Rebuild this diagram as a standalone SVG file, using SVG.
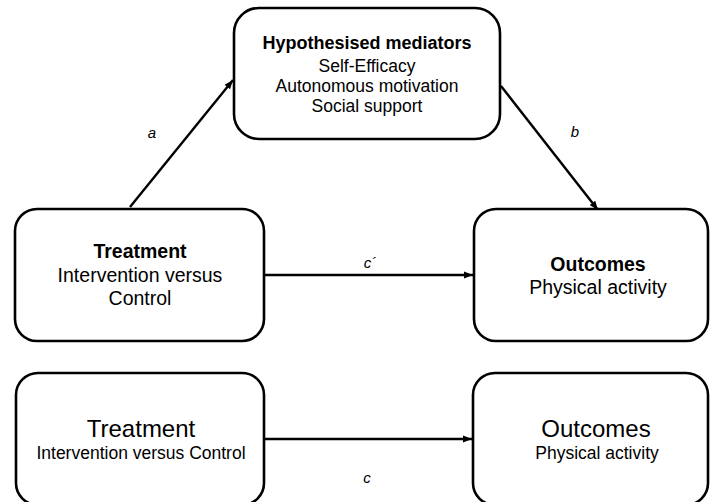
<svg xmlns="http://www.w3.org/2000/svg" width="710" height="502" viewBox="0 0 710 502">
<defs>
<style>
.box{fill:#fff;stroke:#000;stroke-width:2.6}
.edge{stroke:#000;stroke-width:2.4;fill:none}
text{font-family:"Liberation Sans",Arial,sans-serif;fill:#000;text-anchor:middle}
.b{font-weight:bold}
.lbl{font-style:italic;font-size:15px}
</style>
<marker id="ah" markerUnits="userSpaceOnUse" markerWidth="10" markerHeight="8" refX="9" refY="4" orient="auto">
<path d="M0,0.5 L9,4 L0,7.5 Z" fill="#000"/>
</marker>
</defs>
<rect width="710" height="502" fill="#fff"/>
<g id="connectors">
<line class="edge" x1="130" y1="207" x2="233" y2="80" marker-end="url(#ah)"/>
<line class="edge" x1="501" y1="86" x2="598" y2="210" marker-end="url(#ah)"/>
<line class="edge" x1="264" y1="275" x2="473" y2="275" marker-end="url(#ah)"/>
<line class="edge" x1="264" y1="439" x2="472" y2="439" marker-end="url(#ah)"/>
<text class="lbl" x="152" y="138">a</text>
<text class="lbl" x="575" y="137">b</text>
<text class="lbl" x="370" y="268">c´</text>
<text class="lbl" x="367" y="483">c</text>
</g>
<g id="mediators">
<rect class="box" x="234" y="8" width="266" height="131" rx="25"/>
<text class="b" x="367" y="49" font-size="18">Hypothesised mediators</text>
<text x="367" y="72" font-size="17.5">Self-Efficacy</text>
<text x="367" y="92" font-size="17.5">Autonomous motivation</text>
<text x="367" y="112" font-size="17.5">Social support</text>
</g>
<g id="treatment1">
<rect class="box" x="15" y="209" width="249" height="132" rx="22"/>
<text class="b" x="140" y="258" font-size="19.5">Treatment</text>
<text x="140" y="282" font-size="19.5">Intervention versus</text>
<text x="140" y="305" font-size="19.5">Control</text>
</g>
<g id="outcomes1">
<rect class="box" x="474" y="209" width="234" height="132" rx="22"/>
<text class="b" x="598" y="271" font-size="19.5">Outcomes</text>
<text x="598" y="294" font-size="19.5">Physical activity</text>
</g>
<g id="treatment2">
<rect class="box" x="16" y="373" width="248" height="132" rx="22"/>
<text x="141" y="437" font-size="24">Treatment</text>
<text x="141" y="459" font-size="17.5">Intervention versus Control</text>
</g>
<g id="outcomes2">
<rect class="box" x="473" y="373" width="235" height="132" rx="22"/>
<text x="596" y="437" font-size="24">Outcomes</text>
<text x="597" y="459" font-size="17.5">Physical activity</text>
</g>
</svg>
